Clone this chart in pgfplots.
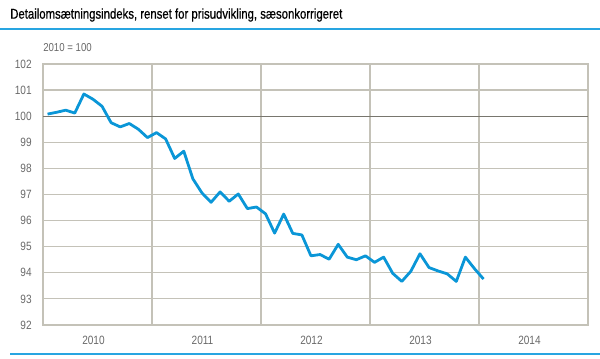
\documentclass[border=0pt]{standalone}
\usepackage{fontspec}
\setmainfont[FakeStretch=0.84]{Liberation Sans}
\newfontfamily\titlefont[FakeStretch=0.80,FakeBold=0.6]{Liberation Sans}
\usepackage{pgfplots}
\pgfplotsset{compat=1.18}
\definecolor{gridc}{RGB}{196,194,184}
\definecolor{zeroc}{RGB}{120,118,110}
\definecolor{linec}{RGB}{10,150,215}
\definecolor{rulec}{RGB}{40,165,225}
\definecolor{labc}{RGB}{105,105,105}
\pgfplotstableread{
x y
0.5 100.08
1.5 100.15
2.5 100.23
3.5 100.12
4.5 100.85
5.5 100.65
6.5 100.38
7.5 99.75
8.5 99.59
9.5 99.72
10.5 99.50
11.5 99.18
12.5 99.37
13.5 99.13
14.5 98.38
15.5 98.66
16.5 97.60
17.5 97.06
18.5 96.70
19.5 97.10
20.5 96.74
21.5 97.02
22.5 96.46
23.5 96.52
24.5 96.26
25.5 95.52
26.5 96.25
27.5 95.51
28.5 95.45
29.5 94.65
30.5 94.70
31.5 94.52
32.5 95.09
33.5 94.60
34.5 94.50
35.5 94.65
36.5 94.40
37.5 94.60
38.5 93.98
39.5 93.67
40.5 94.06
41.5 94.73
42.5 94.20
43.5 94.07
44.5 93.96
45.5 93.67
46.5 94.60
47.5 94.16
48.5 93.76
}\datatab
\begin{document}
\begin{tikzpicture}[x=0.75pt,y=0.75pt]
\path[use as bounding box] (0,0) rectangle (600,359);
\node[anchor=west,inner sep=0pt,font=\titlefont\fontsize{10.65}{12}\selectfont] at (10,344) {Detailomsætningsindeks, renset for prisudvikling, sæsonkorrigeret};
\draw[rulec,line width=1.5pt] (0,330) -- (600,330);
\draw[rulec,line width=1.5pt] (10,5) -- (600,5);
\node[anchor=west,text=labc,font=\fontsize{8.6}{10}\selectfont,inner sep=0pt] at (43,311) {2010 = 100};
\begin{axis}[
  at={(32.25pt,25.5pt)}, anchor=south west,
  scale only axis, width=408.75pt, height=195.75pt,
  xmin=0, xmax=60, ymin=92, ymax=102,
  xtick={6,18,30,42,54},
  xticklabels={2010,2011,2012,2013,2014},
  minor xtick={12,24,36,48},
  xminorgrids, ymajorgrids,
  ytick={92,93,...,102},
  major tick length=0pt, minor tick length=0pt,
  axis line style={gridc,line width=0.9pt},
  grid style={gridc,line width=0.9pt},
  minor grid style={gridc,line width=0.9pt},
  tick label style={text=labc,font=\fontsize{9}{10}\selectfont},
  /pgf/number format/assume math mode=true,
  yticklabel style={xshift=-5pt},
  xticklabel style={yshift=-5pt,xshift=-3pt},
  clip=false,
]
\draw[zeroc,line width=0.9pt] (axis cs:0,100) -- (axis cs:60,100);
\addplot[linec,line width=2.1pt,line join=round] table[x=x,y=y] {\datatab};
\end{axis}
\end{tikzpicture}
\end{document}
